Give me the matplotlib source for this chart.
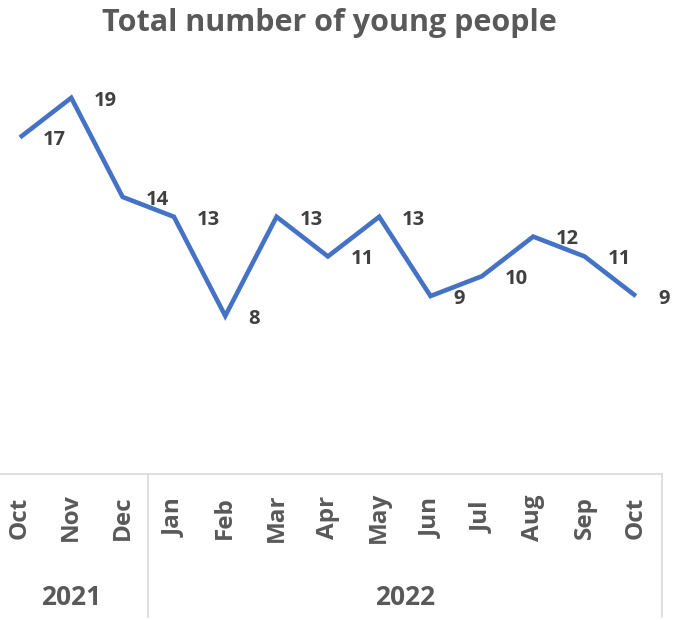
"""
Total number of young people, Oct 2021 - Oct 2022 (line with data labels).
"""

import matplotlib
matplotlib.use("Agg")
import matplotlib.pyplot as plt
import matplotlib.transforms as mtransforms
from matplotlib.lines import Line2D

months = ["Oct", "Nov", "Dec", "Jan", "Feb", "Mar", "Apr",
          "May", "Jun", "Jul", "Aug", "Sep", "Oct"]
counts = [17, 19, 14, 13, 8, 13, 11, 13, 9, 10, 12, 11, 9]
years       = ["2021", "2022"]
year_spans  = [(0, 2), (3, 12)]   # first/last month index of each year

LINE  = "#4472C4"
TEXT  = "#595959"
LABEL = "#404040"
AXIS  = "#D9D9D9"

plt.rcParams["font.family"] = ["Open Sans", "DejaVu Sans"]

fig = plt.figure(figsize=(6.74, 6.20), dpi=100)
# plot area: category bins run slightly off the left edge, like the source
ax = fig.add_axes([-0.0085, 0.2347, 0.990, 0.6395])

x = list(range(len(months)))
ax.plot(x, counts, color=LINE, linewidth=3.3, solid_joinstyle="miter",
        solid_capstyle="butt", clip_on=False)

for xi, v in zip(x, counts):
    ax.annotate(str(v), (xi, v), xytext=(16.5, -2), textcoords="offset points",
                ha="left", va="center", fontsize=14.5, fontweight="bold",
                color=LABEL)

ax.set_xlim(-0.5, len(months) - 0.5)
ax.set_ylim(0, 20)
ax.set_yticks([])
ax.set_xticks(x)
ax.set_xticklabels(months, rotation=90, fontsize=17.5, fontweight="bold",
                   color=TEXT)
ax.tick_params(axis="x", length=0, pad=31)
for lbl in ax.get_xticklabels():
    lbl.set_verticalalignment("center")

for side in ("top", "left", "right"):
    ax.spines[side].set_visible(False)
ax.spines["bottom"].set_color(AXIS)
ax.spines["bottom"].set_linewidth(1.2)

# second level of the category axis: years and separators
trans = mtransforms.blended_transform_factory(ax.transData, ax.transAxes)
for name, (a, b) in zip(years, year_spans):
    ax.text((a + b) / 2, -0.311, name, transform=trans, ha="center",
            va="center", fontsize=19, fontweight="bold", color=TEXT)
for xs in (2.5, len(months) - 0.5):
    ax.add_line(Line2D([xs, xs], [0, -0.36], transform=trans, color=AXIS,
                       linewidth=1.2, clip_on=False))

fig.text(0.488, 0.963, "Total number of young people", ha="center",
         va="center", fontsize=22, fontweight="bold", color=TEXT)

fig.savefig("out.png", dpi=100)
